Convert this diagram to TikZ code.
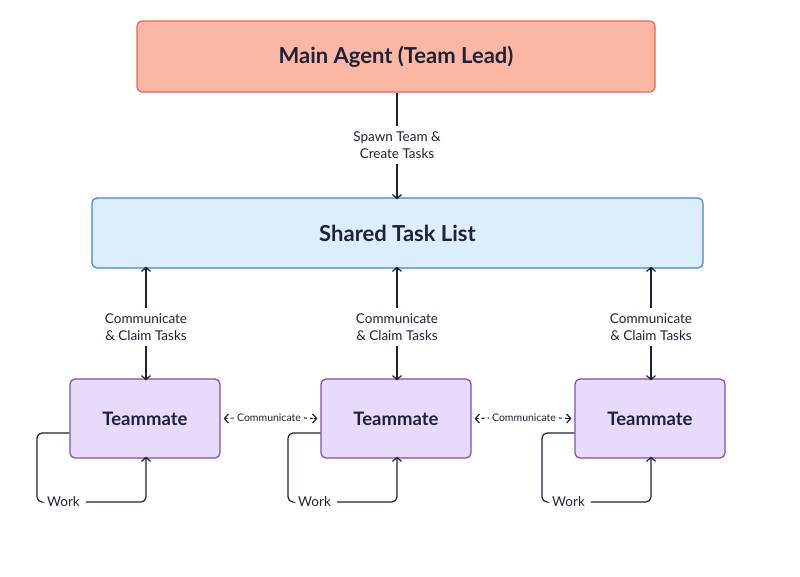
\documentclass[tikz,border=0pt]{standalone}
\usepackage{fontspec}
\setmainfont{Lato}
\usetikzlibrary{arrows.meta}
\definecolor{lineC}{HTML}{1E2238}
\tikzset{
 box/.style={draw, line width=1.2pt, rounded corners=5pt, inner sep=0pt, text=lineC},
 main/.style={box, fill=mainF, draw=mainD, minimum width=518pt, minimum height=71pt, font=\fontsize{22}{24}\selectfont\bfseries},
 shared/.style={box, fill=sharedF, draw=sharedD, minimum width=611pt, minimum height=70pt, font=\fontsize{22}{24}\selectfont\bfseries},
 mate/.style={box, fill=mateF, draw=mateD, minimum width=150pt, minimum height=79pt, font=\fontsize{18.5}{22}\selectfont\bfseries},
 lbl/.style={font=\fontsize{13.5}{17}\selectfont, align=center, text=lineC, inner sep=1pt},
 small/.style={font=\fontsize{10.5}{12}\selectfont, text=lineC, inner sep=1pt},
 arr/.style={draw=lineC, line width=1.2pt, -{Straight Barb[length=4pt,width=9pt]}},
 comm/.style={draw=lineC, line width=1.1pt, dash pattern=on 3pt off 3pt},
 loop/.style={draw=lineC, line width=1.2pt, rounded corners=5pt},
}
\definecolor{mainF}{HTML}{FCB7A4}\definecolor{mainD}{HTML}{DF6A5A}
\definecolor{sharedF}{HTML}{DCEDFB}\definecolor{sharedD}{HTML}{4186D0}
\definecolor{mateF}{HTML}{E7DAFA}\definecolor{mateD}{HTML}{7A50B6}
\begin{document}
\begin{tikzpicture}[x=1pt,y=-1pt]
\fill[white] (0,0) rectangle (800,576);
\node[main] (M) at (396,56.5) {Main Agent (Team Lead)};
\node[shared] (S) at (397.5,233) {Shared Task List};
\node[lbl] (sp) at (397,145) {Spawn Team \&\\Create Tasks};
\draw[loop] (M.south -| sp) -- ([yshift=4pt]sp.north);
\draw[arr] ([yshift=-4pt]sp.south) -- ([yshift=-2pt]S.north -| sp);
\foreach \i/\x in {1/145,2/396,3/650}{
 \node[mate] (T\i) at (\x,418.5) {Teammate};
 \node[lbl] (c\i) at (\x+1,327) {Communicate\\\& Claim Tasks};
 \draw[arr] ([yshift=4pt]c\i.north) -- ([yshift=2pt]S.south -| c\i);
 \draw[arr] ([yshift=-4pt]c\i.south) -- ([yshift=-2pt]T\i.north -| c\i);
 \node[lbl,anchor=west] (w\i) at (\x-99,502) {Work};
 \coordinate (b\i) at (\x+1,502);
 \coordinate (l\i) at (\x-108,502);
 \draw[loop] (T\i.west |- 0,433) -| (l\i) -- ([xshift=-5pt]w\i.west);
 \draw[loop,arr] ([xshift=5pt]w\i.east) -| ([yshift=2pt]T\i.south -| b\i);
}
\node[small] (k1) at (269,418) {Communicate};
\node[small] (k2) at (524,418) {Communicate};
\foreach \a/\k/\b in {T1/k1/T2,T2/k2/T3}{
 \draw[comm] ([xshift=4pt]\a.east) -- ([xshift=-2pt]\k.west);
 \draw[comm] ([xshift=2pt]\k.east) -- ([xshift=-4pt]\b.west);
 \draw[arr] ([xshift=6pt]\a.east) -- ([xshift=3pt]\a.east);
 \draw[arr] ([xshift=-6pt]\b.west) -- ([xshift=-3pt]\b.west);
}
\end{tikzpicture}
\end{document}
